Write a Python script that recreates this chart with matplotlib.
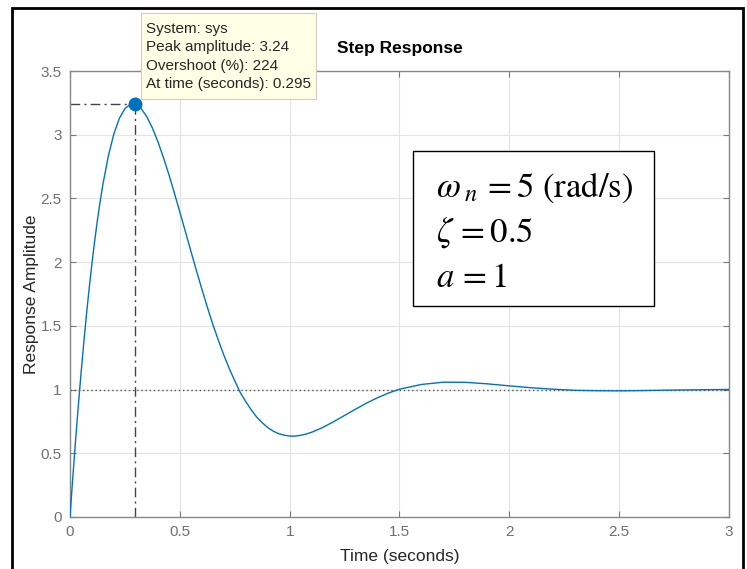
#!/usr/bin/env python3
"""Step response with peak data tip, MATLAB look."""

import matplotlib
matplotlib.use("Agg")
import matplotlib.pyplot as plt
from matplotlib.patches import Rectangle

# values
time_s = [0.0, 0.0125, 0.025, 0.0375, 0.05, 0.0625, 0.075, 0.0875, 0.1,
          0.1125, 0.125, 0.1375, 0.15, 0.175, 0.2, 0.225, 0.25, 0.275,
          0.295, 0.3, 0.325, 0.35, 0.375, 0.4, 0.425, 0.45, 0.475, 0.5,
          0.525, 0.55, 0.575, 0.6, 0.625, 0.65, 0.675, 0.7, 0.725, 0.75,
          0.775, 0.8, 0.825, 0.85, 0.875, 0.9, 0.925, 0.95, 0.975, 1.0,
          1.025, 1.05, 1.075, 1.1, 1.15, 1.2, 1.25, 1.3, 1.35, 1.4, 1.45,
          1.5, 1.6, 1.7, 1.8, 1.9, 2.0, 2.1, 2.2, 2.3, 2.4, 2.5, 2.6, 2.7,
          2.8, 2.9, 3.0]
amplitude = [0.0, 0.305, 0.594, 0.866, 1.123, 1.364, 1.589, 1.798, 1.991,
             2.169, 2.332, 2.479, 2.613, 2.837, 3.008, 3.130, 3.205, 3.239,
             3.240, 3.238, 3.203, 3.140, 3.053, 2.946, 2.823, 2.688, 2.543,
             2.393, 2.241, 2.088, 1.937, 1.790, 1.648, 1.512, 1.389, 1.272,
             1.165, 1.069, 0.977, 0.906, 0.841, 0.784, 0.740, 0.702, 0.674,
             0.654, 0.642, 0.635, 0.635, 0.641, 0.651, 0.665, 0.702, 0.748,
             0.797, 0.846, 0.894, 0.936, 0.973, 1.003, 1.040, 1.058, 1.057,
             1.045, 1.029, 1.014, 1.003, 0.994, 0.991, 0.990, 0.992, 0.995,
             0.997, 0.999, 1.001]

peak_time = 0.295
peak_amp = 3.24
final_value = 1.0

x_ticks = [0, 0.5, 1, 1.5, 2, 2.5, 3]
x_labels = ["0", "0.5", "1", "1.5", "2", "2.5", "3"]
y_ticks = [0, 0.5, 1, 1.5, 2, 2.5, 3, 3.5]
y_labels = ["0", "0.5", "1", "1.5", "2", "2.5", "3", "3.5"]

tip_text = ("System: sys\nPeak amplitude: 3.24\nOvershoot (%): 224\n"
            "At time (seconds): 0.295")
param_lines = [r"$\omega_{\;n} \,= 5\ \mathrm{(rad/s)}$",
               r"$\zeta \,= 0.5$",
               r"$a \,= 1$"]

plt.rcParams["font.family"] = ["Liberation Sans", "DejaVu Sans"]
plt.rcParams["mathtext.fontset"] = "stix"

W, H = 747, 569
fig = plt.figure(figsize=(W / 100, H / 100), dpi=100)
ax = fig.add_axes([70 / W, 1 - 517 / H, (729 - 70) / W, (517 - 71) / H])

blue = "#0072BD"
ax.plot(time_s, amplitude, color=blue, lw=1.0, zorder=3)
ax.axhline(final_value, color="#555555", lw=1.0, ls=(0, (1, 2)), zorder=2)
ax.plot([0, peak_time], [peak_amp, peak_amp], color="#444444", lw=1.0,
        ls=(0, (7, 3, 1.5, 3)), zorder=2)
ax.plot([peak_time, peak_time], [0, peak_amp], color="#444444", lw=1.0,
        ls=(0, (7, 3, 1.5, 3)), zorder=2)
ax.plot([peak_time], [peak_amp], "o", color=blue, ms=9, zorder=4)

ax.set_xlim(0, 3)
ax.set_ylim(0, 3.5)
ax.set_xticks(x_ticks, x_labels)
ax.set_yticks(y_ticks, y_labels)
ax.grid(True, color="#e3e3e3", lw=0.8)
ax.set_axisbelow(True)
ax.tick_params(direction="in", top=True, right=True, length=4,
               color="#777777", labelcolor="#707070", labelsize=11, pad=6)
for sp in ax.spines.values():
    sp.set_color("#888888")
    sp.set_linewidth(1.0)

ax.set_title("Step Response", fontsize=12.5, fontweight="bold", pad=13)
ax.set_xlabel("Time (seconds)", fontsize=12.5, labelpad=7, color="#262626")
ax.set_ylabel("Response Amplitude", fontsize=12.5, labelpad=1,
              color="#262626")

# data tip
fig.patches.append(Rectangle((141 / W, 1 - 99 / H), (316 - 141) / W,
                             (99 - 13) / H, transform=fig.transFigure,
                             fc="#ffffe6", ec="#d0d0c0", lw=0.8, zorder=5))
fig.text(146 / W, 1 - 56.5 / H, tip_text, fontsize=11, va="center",
         ha="left", linespacing=1.42, color="#262626", zorder=6)

# parameter box
fig.patches.append(Rectangle((413 / W, 1 - 306 / H), (654 - 413) / W,
                             (306 - 151) / H, transform=fig.transFigure,
                             fc="white", ec="black", lw=1.0, zorder=5))
for i, line in enumerate(param_lines):
    fig.text(436 / W, 1 - (197 + 45 * i) / H, line, fontsize=25,
             va="baseline", ha="left", zorder=6)

# outer frame
fig.patches.append(Rectangle((12 / W, -0.05), (743 - 12) / W,
                             1 - 8 / H + 0.05, transform=fig.transFigure,
                             fill=False, ec="black", lw=2))

fig.savefig("out.png", dpi=100)
